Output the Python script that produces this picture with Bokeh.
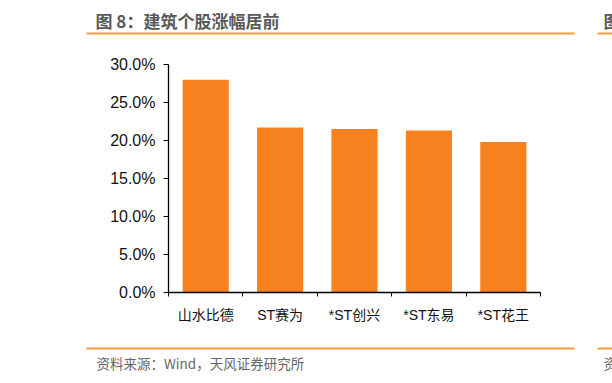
import numpy as np
from bokeh.plotting import figure
from bokeh.layouts import column
from bokeh.core.properties import value
from bokeh.models import Range1d, FixedTicker, NumeralTickFormatter
from bokeh.embed import file_html
from bokeh.resources import INLINE

# ---- data ----
categories = ["山水比德", "ST赛为", "*ST创兴", "*ST东易", "*ST花王"]
gains = [0.280, 0.217, 0.215, 0.213, 0.198]
y_ticks = [0.0, 0.05, 0.10, 0.15, 0.20, 0.25, 0.30]
title_text = "图 8：建筑个股涨幅居前"
source_text = "资料来源：Wind，天风证券研究所"
next_title_stub = "图"
next_source_stub = "资"

BAR = "#F5821F"
RULE = "#F59B45"
LATIN_CJK = "'Liberation Sans', 'Noto Sans CJK SC', sans-serif"
W = 612
HEAD_H, MAIN_H, FOOT_H = 44, 300, 39


def strip(height):
    f = figure(width=W, height=height, output_backend="svg", toolbar_location=None,
               x_range=Range1d(0, W), y_range=Range1d(height, 0),
               x_axis_type=None, y_axis_type=None, min_border=0)
    f.frame_align = False
    f.outline_line_color = None
    f.grid.visible = False
    f.background_fill_color = "white"
    f.border_fill_color = "white"
    return f


# ---- header: title + orange rule ----
head = strip(HEAD_H)
head.text(x=[95, 603], y=[20, 20], text=[title_text, next_title_stub],
          text_font=value("Noto Sans CJK SC"), text_font_size="17px", text_font_style="bold",
          text_color="#595959", text_baseline="middle", text_align="left")
head.segment(x0=[86, 597], y0=[33, 33], x1=[574, W], y1=[33, 33],
             line_color=RULE, line_width=2.2)

# ---- main chart ----
p = figure(width=W, height=MAIN_H, output_backend="svg", toolbar_location=None,
           x_range=Range1d(0, len(categories)), y_range=Range1d(0, 0.30),
           min_border_left=168, min_border_right=72,
           min_border_top=20, min_border_bottom=52)
p.frame_align = False
p.background_fill_color = "white"
p.border_fill_color = "white"
p.outline_line_color = None
p.grid.visible = False

centers = np.arange(len(categories)) + 0.5
p.vbar(x=centers, top=gains, bottom=0, width=0.62, fill_color=BAR, line_color=None)

xa = p.xaxis[0]
xa.ticker = FixedTicker(ticks=list(centers), minor_ticks=list(range(len(categories) + 1)))
xa.major_label_overrides = {float(c): name for c, name in zip(centers, categories)}
xa.major_tick_line_color = None
xa.minor_tick_line_color = "black"
xa.minor_tick_in = 0
xa.minor_tick_out = 4
xa.axis_line_color = "black"
xa.axis_line_width = 1.3
xa.major_label_standoff = 8
xa.major_label_text_font = LATIN_CJK
xa.major_label_text_font_size = "14px"
xa.major_label_text_color = "#111111"

ya = p.yaxis[0]
ya.ticker = FixedTicker(ticks=y_ticks)
ya.formatter = NumeralTickFormatter(format="0.0%")
ya.major_tick_in = 0
ya.major_tick_out = 5
ya.minor_tick_line_color = None
ya.axis_line_color = "black"
ya.axis_line_width = 1.3
ya.major_tick_line_color = "black"
ya.major_label_standoff = 8
ya.major_label_text_font = LATIN_CJK
ya.major_label_text_font_size = "16px"
ya.major_label_text_color = "#111111"

# ---- footer: orange rule + source ----
foot = strip(FOOT_H)
foot.segment(x0=[86, 597], y0=[4, 4], x1=[574, W], y1=[4, 4],
             line_color=RULE, line_width=2.2)
foot.text(x=[96, 603], y=[18, 18], text=[source_text, next_source_stub],
          text_font=value("Noto Sans CJK SC"), text_font_size="13.5px",
          text_color="#666666", text_baseline="middle", text_align="left")

layout = column(head, p, foot, spacing=0)
open("out.html", "w").write(file_html(layout, INLINE))
